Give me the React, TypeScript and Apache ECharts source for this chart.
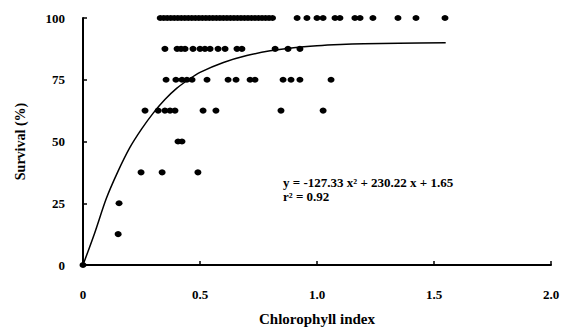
import React, { useEffect, useRef } from "react";
import * as echarts from "echarts";

// Observed data, grouped by survival level (%)
const survival100X = [0.33, 0.345, 0.36, 0.375, 0.39, 0.405, 0.42, 0.435, 0.45, 0.465, 0.48, 0.495, 0.51, 0.525, 0.54, 0.555, 0.57, 0.585, 0.6, 0.615, 0.63, 0.645, 0.66, 0.675, 0.69, 0.705, 0.72, 0.735, 0.75, 0.765, 0.78, 0.795, 0.81, 0.915, 0.957, 1.0, 1.026, 1.077, 1.098, 1.162, 1.184, 1.239, 1.346, 1.423, 1.547];
const survival875X = [0.35, 0.402, 0.419, 0.436, 0.47, 0.5, 0.521, 0.543, 0.577, 0.607, 0.658, 0.679, 0.821, 0.876, 0.927];
const survival75X = [0.355, 0.397, 0.423, 0.444, 0.466, 0.53, 0.62, 0.654, 0.714, 0.735, 0.855, 0.889, 0.927, 1.06];
const survival625X = [0.265, 0.321, 0.35, 0.372, 0.393, 0.513, 0.568, 0.846, 1.026];
const survival50X = [0.406, 0.423];
const survival375X = [0.248, 0.338, 0.491];
const survival25X = [0.154];
const survival125X = [0.15];
const survival0X = [0];

// Fitted curve
const curveX = [0, 0.05, 0.1, 0.15, 0.2, 0.25, 0.3, 0.35, 0.4, 0.45, 0.5, 0.6, 0.7, 0.8, 0.9, 1.0, 1.1, 1.2, 1.35, 1.55];
const curveY = [0, 13, 27, 38, 47.5, 55, 61.5, 67, 71.5, 75, 78, 82, 84.8, 86.7, 88, 88.8, 89.3, 89.6, 89.8, 90];

const xTicks = ["0", "0.5", "1.0", "1.5", "2.0"];
const equationText = "y = -127.33 x\u00B2 + 230.22 x + 1.65";
const r2Text = "r\u00B2 = 0.92";

const FONT = "'Liberation Serif', 'Times New Roman', serif";

export default function App() {
  const ref = useRef<HTMLDivElement>(null);
  useEffect(() => {
    if (!ref.current) return;
    const chart = echarts.init(ref.current, null, { renderer: "svg" });
    const groups: [number[], number][] = [
      [survival100X, 100],
      [survival875X, 87.5],
      [survival75X, 75],
      [survival625X, 62.5],
      [survival50X, 50],
      [survival375X, 37.5],
      [survival25X, 25],
      [survival125X, 12.5],
      [survival0X, 0],
    ];
    const points: [number, number][] = [];
    groups.forEach(([xs, y]) => xs.forEach((x) => points.push([x, y])));
    const curve = curveX.map((x, i) => [x, curveY[i]]);

    chart.setOption({
      animation: false,
      backgroundColor: "#ffffff",
      grid: { left: 83, top: 18, right: 12, bottom: 64, containLabel: false },
      xAxis: {
        type: "value",
        min: 0,
        max: 2,
        interval: 0.5,
        name: "Chlorophyll index",
        nameLocation: "middle",
        nameGap: 46,
        nameTextStyle: { fontFamily: FONT, fontWeight: "bold", fontSize: 15, color: "#000" },
        axisLine: { show: true, onZero: false, lineStyle: { color: "#000", width: 2 } },
        axisTick: { show: true, inside: true, length: 4, lineStyle: { color: "#000", width: 1.5 } },
        splitLine: { show: false },
        axisLabel: {
          margin: 23,
          fontFamily: FONT,
          fontWeight: "bold",
          fontSize: 13,
          color: "#000",
          formatter: (v: number) => xTicks[Math.round(v / 0.5)] ?? String(v),
        },
      },
      yAxis: {
        type: "value",
        min: 0,
        max: 100,
        interval: 25,
        name: "Survival (%)",
        nameLocation: "middle",
        nameGap: 56,
        nameRotate: 90,
        nameTextStyle: { fontFamily: FONT, fontWeight: "bold", fontSize: 14, color: "#000" },
        axisLine: { show: true, lineStyle: { color: "#000", width: 2 } },
        axisTick: { show: true, inside: true, length: 4, lineStyle: { color: "#000", width: 1.5 } },
        splitLine: { show: false },
        axisLabel: { margin: 18, fontFamily: FONT, fontWeight: "bold", fontSize: 13, color: "#000" },
      },
      series: [
        {
          type: "line",
          data: curve,
          smooth: 0.3,
          showSymbol: false,
          lineStyle: { color: "#000", width: 1.5 },
          z: 2,
        },
        {
          type: "scatter",
          data: points,
          symbol: "circle",
          symbolSize: [7, 6],
          itemStyle: { color: "#000", opacity: 1 },
          z: 3,
        },
      ],
      graphic: [
        {
          type: "text",
          left: 283,
          top: 176,
          style: { text: equationText, font: `bold 13px ${FONT}`, fill: "#000" },
        },
        {
          type: "text",
          left: 283,
          top: 190,
          style: { text: r2Text, font: `bold 13px ${FONT}`, fill: "#000" },
        },
      ],
    });
    return () => chart.dispose();
  }, []);
  return (
    <div
      ref={ref}
      style={{ position: "absolute", left: 0, top: 0, width: 563, height: 331 }}
    />
  );
}
